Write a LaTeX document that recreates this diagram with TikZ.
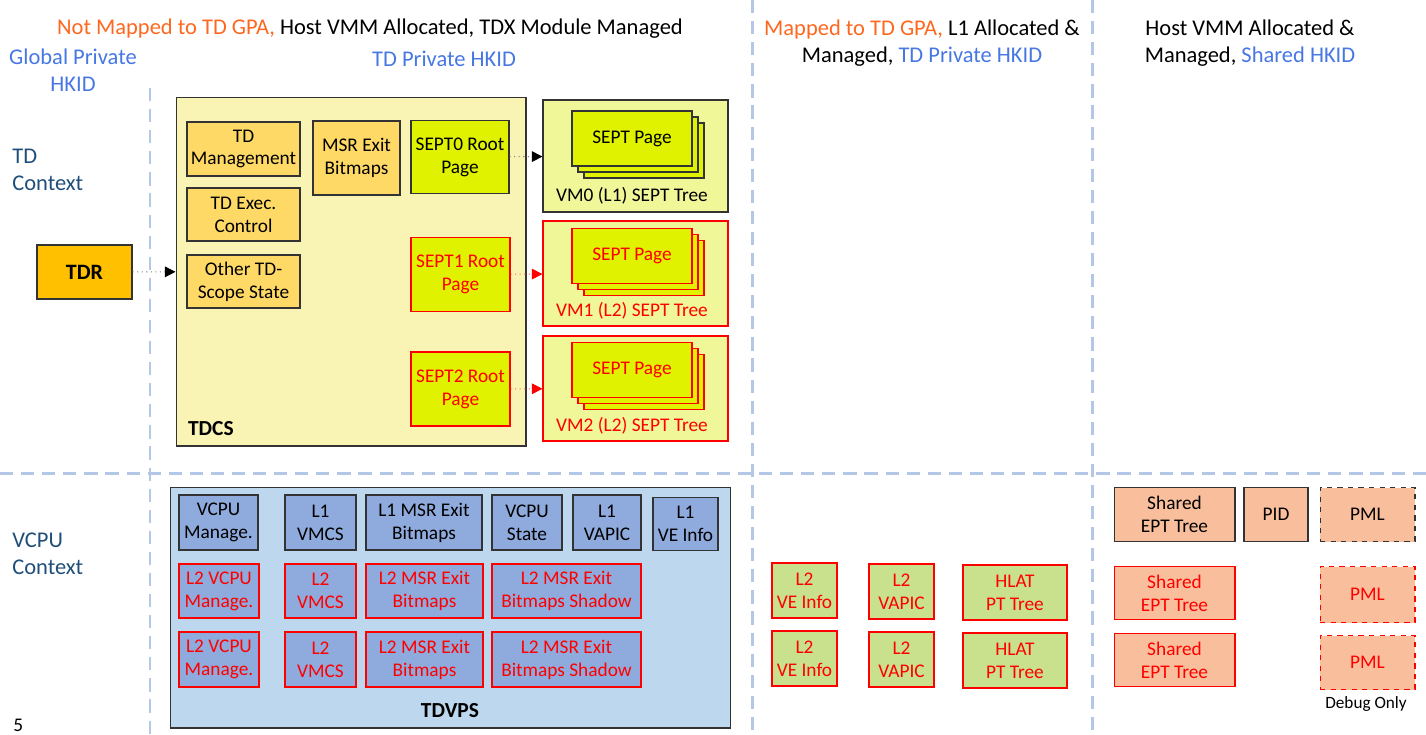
\documentclass[tikz,border=0pt]{standalone}
\usepackage{fontspec}
\setmainfont{Carlito}
\usetikzlibrary{positioning, arrows.meta}

\definecolor{sepline}{HTML}{B4C7E7}
\definecolor{hdorange}{HTML}{FF671F}
\definecolor{hdblue}{HTML}{4677E3}
\definecolor{ctxblue}{HTML}{1F4E79}
\definecolor{tdrfill}{HTML}{FFC000}
\definecolor{tdcsfill}{HTML}{FAF4B4}
\definecolor{tdfill}{HTML}{FFD966}
\definecolor{septfill}{HTML}{E0F200}
\definecolor{vmfill}{HTML}{EFF798}
\definecolor{tdvpsfill}{HTML}{BDD7EE}
\definecolor{vcpufill}{HTML}{8FAADC}
\definecolor{l2fill}{HTML}{C9E08C}
\definecolor{shfill}{HTML}{F9BF9C}

\tikzset{
	boxtxt/.style={font=\fontsize{11}{13}\selectfont, align=center, inner sep=1pt},
	blk/.style={boxtxt, draw=black!80, line width=0.6pt},
	redb/.style={boxtxt, draw=red, line width=0.6pt, text=red},
	sepdash/.style={draw=sepline, line width=1.7pt, dash pattern=on 7.5pt off 4.5pt},
	hdtxt/.style={font=\fontsize{12.8}{15.3}\selectfont, align=center, inner sep=0pt},
	ptr/.style={draw=gray, dotted, line width=0.6pt, -{Triangle[length=6pt,width=6pt,black]}},
	redptr/.style={draw=red!60, dotted, line width=0.6pt, -{Triangle[length=6pt,width=6pt,red]}},
}

\begin{document}
\begin{tikzpicture}[x=0.02cm, y=-0.02cm]
	\useasboundingbox (0,0) rectangle (1426,734);

	% separators
	\coordinate (s1a) at (150,88);   \coordinate (s1b) at (150,734);
	\coordinate (s2a) at (752,0);    \coordinate (s2b) at (752,734);
	\coordinate (s3a) at (1092,0);   \coordinate (s3b) at (1092,734);
	\coordinate (h1a) at (0,473);    \coordinate (h1b) at (1426,473);
	\draw[sepdash] (s1a) -- (s1b);
	\draw[sepdash] (s2a) -- (s2b);
	\draw[sepdash] (s3a) -- (s3b);
	\draw[sepdash] (h1a) -- (h1b);

	% headers
	\node[hdtxt] (hd1) at (370,29) {\textcolor{hdorange}{Not Mapped to TD GPA,} Host VMM Allocated, TDX Module Managed};
	\node[hdtxt, text=hdblue] (hdglob) at (73,70) {Global Private\\HKID};
	\node[hdtxt, text=hdblue] (hdtdpriv) at (444,59) {TD Private HKID};
	\node[hdtxt] (hd2) at (922,43) {\textcolor{hdorange}{Mapped to TD GPA,} L1 Allocated \&\\Managed, \textcolor{hdblue}{TD Private HKID}};
	\node[hdtxt] (hd3) at (1250,43) {Host VMM Allocated \&\\Managed, \textcolor{hdblue}{Shared HKID}};

	\node[hdtxt, text=ctxblue, align=left, anchor=west] (tdctx) at (12,170) {TD\\Context};
	\node[hdtxt, text=ctxblue, align=left, anchor=west] (vcpuctx) at (12,554) {VCPU\\Context};
	\node[boxtxt, anchor=west, inner sep=0pt] (pagenum) at (13,725) {5};

	% TD context
	\node (tdr) at (84.5,272) [blk, fill=tdrfill, minimum width=1.9cm, minimum height=1.08cm] {\bfseries\fontsize{12.5}{14}\selectfont TDR};
	\node (tdcs) at (351,271.5) [blk, fill=tdcsfill, minimum width=7cm, minimum height=6.98cm] {};
	\node[boxtxt, anchor=west] (tdcslabel) at (186,429) {\bfseries\fontsize{12.2}{14}\selectfont TDCS};

	\node (tdman) at (243.5,149) [blk, fill=tdfill, minimum width=2.26cm, minimum height=1.08cm] {TD\\Management};
	\node (tdexec) at (243.5,214.5) [blk, fill=tdfill, minimum width=2.26cm, minimum height=1.06cm] {TD Exec.\\Control};
	\node (tdother) at (243.5,281.5) [blk, fill=tdfill, minimum width=2.26cm, minimum height=1.06cm] {Other TD-\\Scope State};
	\node (msrbm) at (356.5,158) [blk, fill=tdfill, minimum width=1.74cm, minimum height=1.48cm] {MSR Exit\\Bitmaps};

	\node (sept0) at (460,157) [blk, fill=septfill, minimum width=1.96cm, minimum height=1.46cm] {SEPT0 Root\\Page};
	\node (sept1) at (460.5,274.5) [redb, fill=septfill, minimum width=1.98cm, minimum height=1.48cm] {SEPT1 Root\\Page};
	\node (sept2) at (460.5,389) [redb, fill=septfill, minimum width=1.98cm, minimum height=1.48cm] {SEPT2 Root\\Page};

	\node (vm0) at (635.5,156) [blk, fill=vmfill, minimum width=3.7cm, minimum height=2.24cm] {};
	\node (vm1) at (635.5,273.5) [redb, fill=vmfill, minimum width=3.7cm, minimum height=2.1cm] {};
	\node (vm2) at (635.5,388.5) [redb, fill=vmfill, minimum width=3.7cm, minimum height=2.1cm] {};

	\node (vm0p3) at (644,150.5) [blk, fill=septfill, minimum width=2.4cm, minimum height=1.1cm] {};
	\node (vm0p2) at (638,144.5) [blk, fill=septfill, minimum width=2.4cm, minimum height=1.1cm] {};
	\node (vm0p1) at (632,138.5) [blk, fill=septfill, minimum width=2.4cm, minimum height=1.1cm] {SEPT Page};
	\node[boxtxt] (vm0label) at (632,196) {VM0 (L1) SEPT Tree};

	\node (vm1p3) at (644,268) [redb, fill=septfill, minimum width=2.4cm, minimum height=1.1cm] {};
	\node (vm1p2) at (638,262) [redb, fill=septfill, minimum width=2.4cm, minimum height=1.1cm] {};
	\node (vm1p1) at (632,256) [redb, fill=septfill, minimum width=2.4cm, minimum height=1.1cm] {SEPT Page};
	\node[boxtxt, text=red] (vm1label) at (632,311) {VM1 (L2) SEPT Tree};

	\node (vm2p3) at (644,382) [redb, fill=septfill, minimum width=2.4cm, minimum height=1.1cm] {};
	\node (vm2p2) at (638,376) [redb, fill=septfill, minimum width=2.4cm, minimum height=1.1cm] {};
	\node (vm2p1) at (632,370) [redb, fill=septfill, minimum width=2.4cm, minimum height=1.1cm] {SEPT Page};
	\node[boxtxt, text=red] (vm2label) at (632,426) {VM2 (L2) SEPT Tree};

	\path[ptr] (tdr) edge (tdcs);
	\path[ptr] (sept0) edge (vm0);
	\path[redptr] (sept1) edge (vm1);
	\path[redptr] (sept2) edge (vm2);

	% VCPU context
	\node (tdvps) at (450.5,607.5) [blk, fill=tdvpsfill, minimum width=11.22cm, minimum height=4.82cm] {};
	\node[boxtxt] (tdvpslabel) at (450,711) {\bfseries\fontsize{12.2}{14}\selectfont TDVPS};

	\node (vcpuman) at (218.5,522.5) [blk, fill=vcpufill, minimum width=1.58cm, minimum height=1.1cm] {VCPU\\Manage.};
	\node (l1vmcs) at (320.5,522.5) [blk, fill=vcpufill, minimum width=1.42cm, minimum height=1.1cm] {L1\\VMCS};
	\node (l1msr) at (424,522.5) [blk, fill=vcpufill, minimum width=2.32cm, minimum height=1.1cm] {L1 MSR Exit\\Bitmaps};
	\node (vcpustate) at (527,522.5) [blk, fill=vcpufill, minimum width=1.4cm, minimum height=1.1cm] {VCPU\\State};
	\node (l1vapic) at (607,522.5) [blk, fill=vcpufill, minimum width=1.36cm, minimum height=1.1cm] {L1\\VAPIC};
	\node (l1ve) at (685.5,524) [blk, fill=vcpufill, minimum width=1.3cm, minimum height=1.06cm] {L1\\VE Info};

	\node (l2vcpuman1) at (219,591) [redb, fill=vcpufill, minimum width=1.6cm, minimum height=1.08cm] {L2 VCPU\\Manage.};
	\node (l2vmcs1) at (320.5,591) [redb, fill=vcpufill, minimum width=1.42cm, minimum height=1.08cm] {L2\\VMCS};
	\node (l2msr1) at (424.5,591) [redb, fill=vcpufill, minimum width=2.34cm, minimum height=1.08cm] {L2 MSR Exit\\Bitmaps};
	\node (l2msrsh1) at (566.5,591) [redb, fill=vcpufill, minimum width=2.98cm, minimum height=1.08cm] {L2 MSR Exit\\Bitmaps Shadow};

	\node (l2vcpuman2) at (219,659.5) [redb, fill=vcpufill, minimum width=1.6cm, minimum height=1.1cm] {L2 VCPU\\Manage.};
	\node (l2vmcs2) at (320.5,659.5) [redb, fill=vcpufill, minimum width=1.42cm, minimum height=1.1cm] {L2\\VMCS};
	\node (l2msr2) at (424.5,659.5) [redb, fill=vcpufill, minimum width=2.34cm, minimum height=1.1cm] {L2 MSR Exit\\Bitmaps};
	\node (l2msrsh2) at (566.5,659.5) [redb, fill=vcpufill, minimum width=2.98cm, minimum height=1.1cm] {L2 MSR Exit\\Bitmaps Shadow};

	% L1 allocated
	\node (l2ve1) at (804.5,590.5) [redb, fill=l2fill, minimum width=1.3cm, minimum height=1.1cm] {L2\\VE Info};
	\node (l2vapic1) at (901.5,591.5) [redb, fill=l2fill, minimum width=1.3cm, minimum height=1.1cm] {L2\\VAPIC};
	\node (hlat1) at (1015,592.5) [redb, fill=l2fill, minimum width=2.08cm, minimum height=1.1cm] {HLAT\\PT Tree};
	\node (l2ve2) at (804.5,658.5) [redb, fill=l2fill, minimum width=1.3cm, minimum height=1.1cm] {L2\\VE Info};
	\node (l2vapic2) at (901.5,659.5) [redb, fill=l2fill, minimum width=1.3cm, minimum height=1.1cm] {L2\\VAPIC};
	\node (hlat2) at (1015,660.5) [redb, fill=l2fill, minimum width=2.08cm, minimum height=1.1cm] {HLAT\\PT Tree};

	% host VMM allocated
	\node (sept1sh) at (1174.5,514.5) [blk, fill=shfill, minimum width=2.42cm, minimum height=1.08cm] {Shared\\EPT Tree};
	\node (pid) at (1276,514.5) [blk, fill=shfill, minimum width=1.28cm, minimum height=1.08cm] {PID};
	\node (pml1) at (1367.5,514.5) [blk, dashed, fill=shfill, minimum width=1.9cm, minimum height=1.08cm] {PML};
	\node (sept2sh) at (1174.5,593) [redb, fill=shfill, minimum width=2.42cm, minimum height=1.06cm] {Shared\\EPT Tree};
	\node (pml2) at (1367.5,594.5) [redb, dashed, fill=shfill, minimum width=1.9cm, minimum height=1.12cm] {PML};
	\node (sept3sh) at (1174.5,660) [redb, fill=shfill, minimum width=2.42cm, minimum height=1.06cm] {Shared\\EPT Tree};
	\node (pml3) at (1367.5,662.5) [redb, dashed, fill=shfill, minimum width=1.9cm, minimum height=1.08cm] {PML};
	\node[boxtxt, font=\fontsize{9.8}{11}\selectfont] (debug) at (1366,704) {Debug Only};
\end{tikzpicture}
\end{document}
